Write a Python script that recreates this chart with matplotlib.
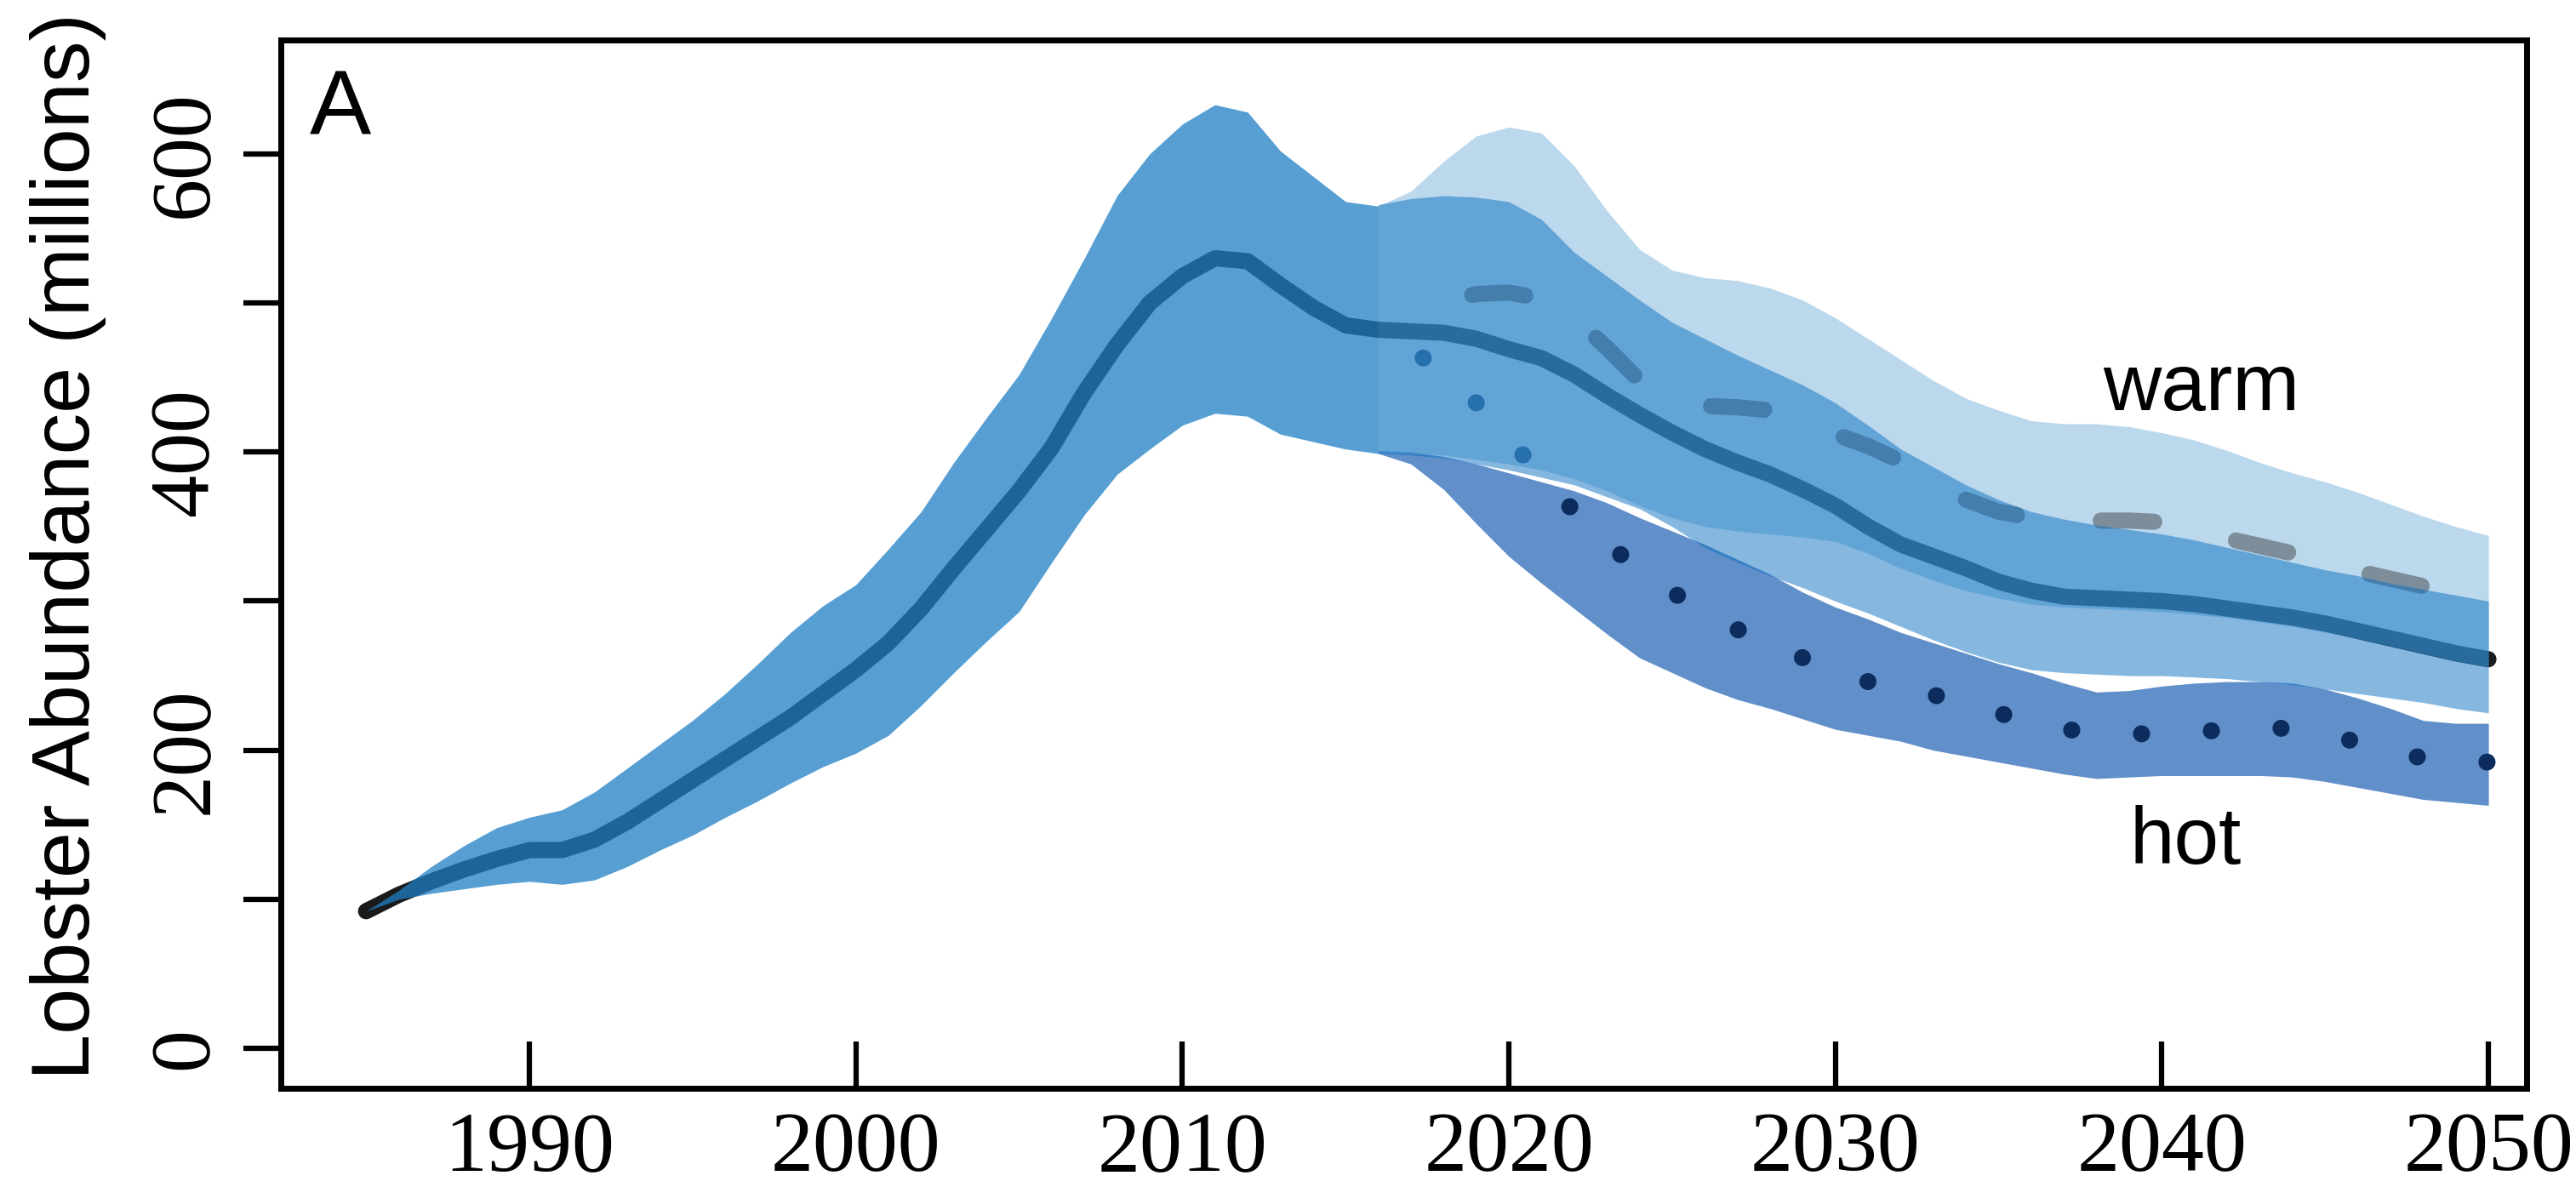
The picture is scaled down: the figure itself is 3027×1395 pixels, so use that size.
import numpy as np
import matplotlib
matplotlib.use('Agg')
from matplotlib import pyplot as plt

plt.rcParams['font.family'] = ['Liberation Serif', 'DejaVu Serif']

# solid line: central projection (1985-2050)
years = np.arange(1985, 2051)
mean_all = [92, 103, 112, 120, 127, 133, 133, 140, 152, 166,
            180, 194, 208, 222, 238, 254, 272, 295, 322, 348,
            374, 403, 440, 472, 500, 518, 530, 528, 512, 497,
            485, 482, 481, 480, 476, 469, 463, 452, 438, 425,
            413, 402, 393, 385, 375, 364, 350, 338, 330, 322,
            313, 307, 303, 302, 301, 300, 298, 295, 292, 289,
            285, 280, 275, 270, 265, 261]

# historical uncertainty band (1985-2016)
hist_years = np.arange(1985, 2017)
hist_upper = [92, 106, 122, 136, 148, 155, 160, 172, 188, 204,
              220, 238, 258, 279, 297, 311, 335, 360, 393, 423,
              452, 490, 530, 572, 600, 620, 633, 628, 602, 585,
              568, 565]
hist_lower = [92, 100, 104, 107, 110, 112, 110, 113, 122, 133,
              143, 155, 166, 178, 189, 198, 210, 230, 252, 273,
              293, 326, 358, 385, 402, 418, 426, 424, 412, 407,
              402, 399]

# projections (2016-2050)
proj_years = np.arange(2016, 2051)
warm_upper = [565, 575, 595, 612, 618, 614, 592, 562, 536, 522,
              517, 515, 510, 502, 490, 476, 462, 448, 436, 428,
              421, 419, 419, 417, 413, 408, 401, 393, 386, 380,
              373, 365, 357, 350, 344]
warm_mean = [482, 492, 501, 506, 507, 503, 490, 470, 448, 436,
             431, 430, 428, 420, 412, 404, 394, 381, 368, 360,
             356, 355, 354, 354, 353, 349, 342, 337, 332, 326,
             320, 315, 310, 306, 302]
warm_lower = [399, 399, 398, 395, 392, 388, 382, 374, 364, 356,
              350, 347, 345, 343, 340, 332, 322, 314, 307, 302,
              298, 296, 295, 294, 293, 291, 289, 286, 283, 279,
              275, 270, 265, 260, 256]
mid_upper = [566, 570, 572, 571, 568, 556, 534, 518, 502, 487,
             476, 465, 455, 445, 433, 418, 402, 390, 378, 368,
             360, 355, 351, 348, 345, 341, 336, 331, 326, 321,
             317, 312, 308, 304, 300]
mid_lower = [399, 398, 396, 392, 388, 383, 378, 370, 362, 350,
             336, 326, 317, 309, 300, 292, 283, 274, 266, 259,
             254, 252, 251, 250, 250, 249, 248, 246, 244, 241,
             238, 235, 232, 228, 225]
hot_upper = [401, 400, 397, 392, 386, 380, 374, 366, 356, 347,
             338, 328, 318, 306, 296, 288, 279, 272, 265, 258,
             252, 245, 239, 240, 243, 245, 246, 246, 245, 241,
             235, 228, 220, 218, 218]
hot_mean = [482, 468, 455, 433, 408, 385, 360, 338, 322, 306,
            293, 281, 271, 262, 252, 246, 242, 237, 232, 225,
            218, 214, 212, 211, 211, 212, 214, 216, 214, 212,
            205, 198, 195, 193, 192]
hot_lower = [399, 392, 375, 352, 330, 312, 295, 278, 262, 252,
             242, 234, 228, 221, 214, 210, 206, 200, 196, 192,
             188, 184, 181, 182, 183, 183, 183, 183, 182, 179,
             175, 171, 167, 165, 163]

fig = plt.figure(figsize=(30.27, 13.95), dpi=100)
ax = fig.add_axes([0.10902, 0.08351, 0.87182, 0.88280])

# lines sit under the translucent bands
ax.plot(years, mean_all, color='#1a1a1a', lw=13.7, solid_capstyle='round',
        solid_joinstyle='round', zorder=1)
ax.fill_between(hist_years, hist_lower, hist_upper, color='#1f7fc5', alpha=0.75, lw=0, zorder=2)
ax.fill_between(proj_years, hot_lower, hot_upper, color='#0c54ac', alpha=0.65, lw=0, zorder=2)
ax.plot(proj_years, hot_mean, color='#0b2c5c', lw=14.4, linestyle=(1.0, (0.01, 4.1)),
        dash_capstyle='round', zorder=3)
ax.fill_between(proj_years, warm_lower, warm_upper, color='#79b3dd', alpha=0.5, lw=0, zorder=4)
ax.plot(proj_years[1:], warm_mean[1:], color='#7d8d9a', lw=13.7, linestyle=(4.5, (3.3, 5.2)),
        dash_capstyle='round', zorder=5)
ax.fill_between(proj_years, mid_lower, mid_upper, color='#0d71c1', alpha=0.5, lw=0, zorder=6)

ax.set_xlim(1982.39, 2051.17)
ax.set_ylim(-26.5, 676.4)

ax.set_xticks(range(1990, 2051, 10))
ax.set_yticks(range(0, 601, 100))
ax.set_yticklabels(['0', '', '200', '', '400', '', '600'])

ax.tick_params(axis='x', direction='in', length=39.6, width=4.5, pad=20, labelsize=72)
ax.tick_params(axis='y', direction='out', length=31.7, width=4.5, pad=16, labelsize=72,
               labelrotation=90)
for lab in ax.get_yticklabels():
    lab.set_va('center')

for sp in ax.spines.values():
    sp.set_linewidth(5)

ax.text(2038.2, 428, 'warm', fontsize=68, ha='left', va='baseline', family='Liberation Sans', zorder=10)
ax.text(2039.0, 124, 'hot', fontsize=68, ha='left', va='baseline', family='Liberation Sans', zorder=10)

fig.text(364 / 3027, 1 - 158 / 1395, 'A', fontsize=78, ha='left', va='baseline',
         family='Liberation Sans')
fig.text(105 / 3027, 1 - 642 / 1395, 'Lobster Abundance (millions)', fontsize=70,
         rotation=90, rotation_mode='anchor', ha='center', va='baseline',
         family='Liberation Sans')

fig.savefig('out.png', dpi=100)
